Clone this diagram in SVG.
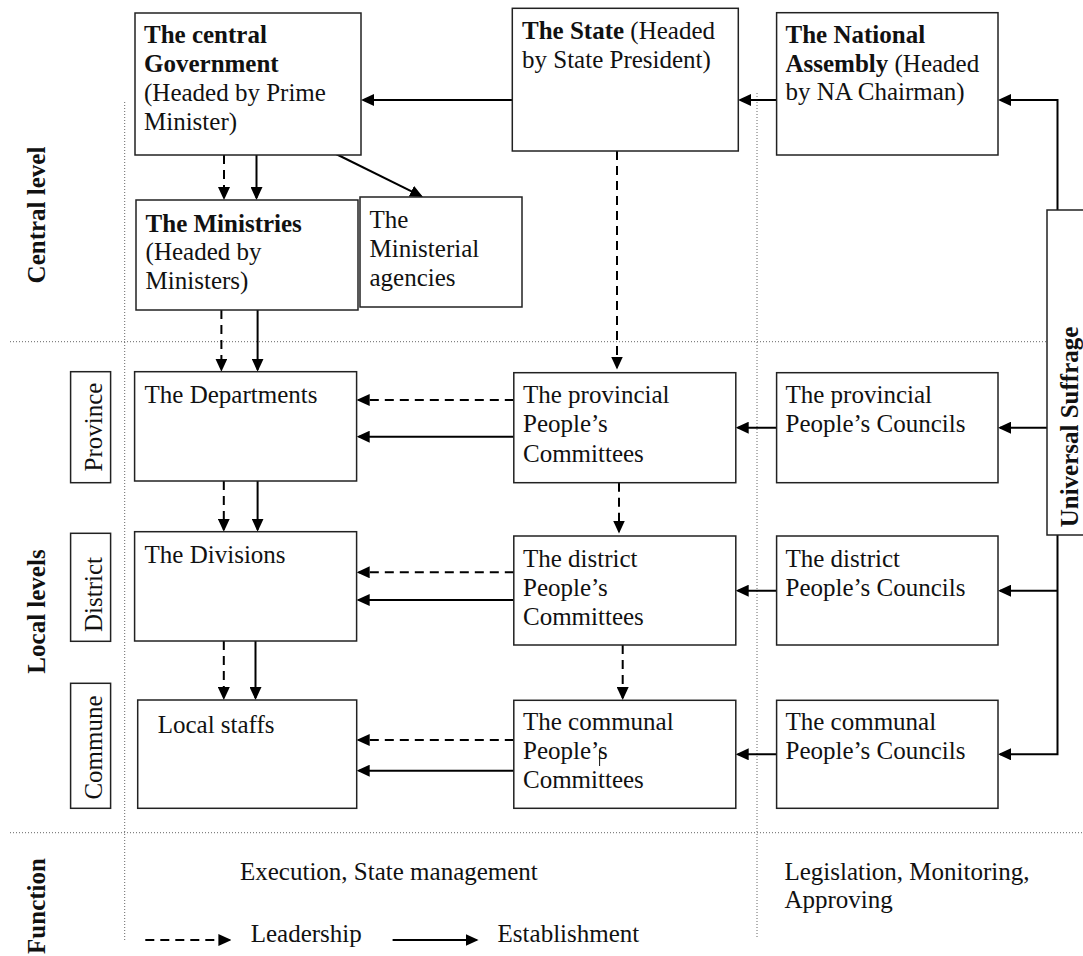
<svg xmlns="http://www.w3.org/2000/svg" width="1083" height="956" viewBox="0 0 1083 956">
  <style>
    .box { fill: #fff; stroke: #222; stroke-width: 1.5; }
    .t { font-family: "Liberation Serif", "Times New Roman", serif; font-size: 25px; fill: #111; }
    .b { font-weight: bold; }
    .solid { fill: none; stroke: #000; stroke-width: 2; marker-end: url(#head); }
    .dash { fill: none; stroke: #000; stroke-width: 2; stroke-dasharray: 9 6; marker-end: url(#head); }
    .grid { fill: none; stroke: #666; stroke-width: 1; stroke-dasharray: 1 2; }
  </style>
  <defs>
    <marker id="head" viewBox="0 0 13 12" refX="11" refY="6" markerWidth="13" markerHeight="12" markerUnits="userSpaceOnUse" orient="auto">
      <path d="M0,0 L13,6 L0,12 z" fill="#000" stroke="none"/>
    </marker>
  </defs>
  <rect width="1083" height="956" fill="#fff"/>

  <!-- level separators -->
  <g id="grid">
    <line class="grid" x1="124.7" y1="102" x2="124.7" y2="940"/>
    <line class="grid" x1="757" y1="93" x2="757" y2="937"/>
    <line class="grid" x1="10" y1="341.7" x2="1047" y2="341.7"/>
    <line class="grid" x1="10" y1="832.7" x2="1083" y2="832.7"/>
  </g>

  <!-- row labels -->
  <g id="level-labels">
    <text class="t b" text-anchor="middle" transform="translate(44.5,215) rotate(-90)">Central level</text>
    <text class="t b" text-anchor="middle" transform="translate(44.5,611.5) rotate(-90)">Local levels</text>
    <text class="t b" text-anchor="middle" transform="translate(44.5,906) rotate(-90)">Function</text>
  </g>
  <g id="province">
    <rect class="box" x="70.6" y="371.7" width="40" height="111"/>
    <text class="t" text-anchor="middle" transform="translate(102,427) rotate(-90)">Province</text>
  </g>
  <g id="district">
    <rect class="box" x="70.6" y="533.3" width="40" height="108"/>
    <text class="t" text-anchor="middle" transform="translate(102,594.5) rotate(-90)">District</text>
  </g>
  <g id="commune">
    <rect class="box" x="70.6" y="683.3" width="40" height="125"/>
    <text class="t" text-anchor="middle" transform="translate(102,747.5) rotate(-90)">Commune</text>
  </g>

  <!-- connectors -->
  <g id="connectors">
    <path class="solid" d="M513,100 H363"/>
    <path class="solid" d="M776.6,100 H740"/>
    <path class="solid" d="M1057.5,210 V100 H1000"/>
    <path class="dash" d="M224,155 V198"/>
    <path class="solid" d="M256.5,155 V198"/>
    <path class="solid" d="M334,153 L421.2,196.1"/>
    <path class="dash" d="M617,151 V367.5"/>
    <path class="dash" d="M221.4,310 V369.7"/>
    <path class="solid" d="M257.6,310 V369.7"/>
    <path class="dash" d="M513.8,400 H358.7"/>
    <path class="solid" d="M513.8,436.7 H358.7"/>
    <path class="solid" d="M776.6,427.7 H737.7"/>
    <path class="solid" d="M1047,427.7 H1000"/>
    <path class="dash" d="M223.8,481 V529.7"/>
    <path class="solid" d="M257.6,481 V529.7"/>
    <path class="dash" d="M619,482.7 V531.5"/>
    <path class="dash" d="M513.8,572.3 H358.7"/>
    <path class="solid" d="M513.8,600 H358.7"/>
    <path class="solid" d="M776.6,590.7 H737.7"/>
    <path class="solid" d="M1057.5,535 V754.3 H1000"/>
    <path class="solid" d="M1057.5,590.7 H1000"/>
    <path class="dash" d="M223.8,641 V698"/>
    <path class="solid" d="M255.5,641 V698"/>
    <path class="dash" d="M622.7,645 V698"/>
    <path class="dash" d="M513.8,740 H358.7"/>
    <path class="solid" d="M513.8,770.7 H358.7"/>
    <path class="solid" d="M776.6,754.3 H737.7"/>
  </g>

  <!-- central level -->
  <g id="central-government">
    <rect class="box" x="135" y="13" width="226" height="142"/>
    <text class="t">
      <tspan class="b" x="144" y="43">The central</tspan>
      <tspan class="b" x="144" y="72">Government</tspan>
      <tspan x="144" y="101">(Headed by Prime</tspan>
      <tspan x="144" y="130">Minister)</tspan>
    </text>
  </g>
  <g id="state">
    <rect class="box" x="512.3" y="8.3" width="226" height="142.7"/>
    <text class="t">
      <tspan x="522" y="39"><tspan class="b">The State</tspan> (Headed</tspan>
      <tspan x="522" y="68">by State President)</tspan>
    </text>
  </g>
  <g id="national-assembly">
    <rect class="box" x="776.6" y="12.7" width="221.4" height="142.3"/>
    <text class="t">
      <tspan class="b" x="785.5" y="43">The National</tspan>
      <tspan x="785.5" y="72"><tspan class="b">Assembly</tspan> (Headed</tspan>
      <tspan x="785.5" y="100">by NA Chairman)</tspan>
    </text>
  </g>
  <g id="ministries">
    <rect class="box" x="136" y="200" width="222" height="110"/>
    <text class="t">
      <tspan class="b" x="145.6" y="231.7">The Ministries</tspan>
      <tspan x="145.6" y="260">(Headed by</tspan>
      <tspan x="145.6" y="288.5">Ministers)</tspan>
    </text>
  </g>
  <g id="ministerial-agencies">
    <rect class="box" x="360" y="197" width="162" height="110"/>
    <text class="t">
      <tspan x="369.5" y="227.7">The</tspan>
      <tspan x="369.5" y="256.7">Ministerial</tspan>
      <tspan x="369.5" y="286">agencies</tspan>
    </text>
  </g>
  <g id="universal-suffrage">
    <rect class="box" x="1047" y="210" width="50" height="325"/>
    <text class="t b" text-anchor="middle" transform="translate(1078,427) rotate(-90)">Universal Suffrage</text>
  </g>

  <!-- province level -->
  <g id="departments">
    <rect class="box" x="134.6" y="371.7" width="222" height="109.3"/>
    <text class="t" x="144.6" y="403">The Departments</text>
  </g>
  <g id="provincial-committees">
    <rect class="box" x="513.8" y="372.7" width="222" height="110"/>
    <text class="t">
      <tspan x="523" y="403">The provincial</tspan>
      <tspan x="523" y="432">People’s</tspan>
      <tspan x="523" y="461.7">Committees</tspan>
    </text>
  </g>
  <g id="provincial-councils">
    <rect class="box" x="776.6" y="372.7" width="221.4" height="110"/>
    <text class="t">
      <tspan x="785.5" y="403">The provincial</tspan>
      <tspan x="785.5" y="432">People’s Councils</tspan>
    </text>
  </g>

  <!-- district level -->
  <g id="divisions">
    <rect class="box" x="134.6" y="531.7" width="222" height="109.3"/>
    <text class="t" x="144.6" y="563.3">The Divisions</text>
  </g>
  <g id="district-committees">
    <rect class="box" x="513.8" y="536" width="222" height="109"/>
    <text class="t">
      <tspan x="523" y="566.5">The district</tspan>
      <tspan x="523" y="596">People’s</tspan>
      <tspan x="523" y="625">Committees</tspan>
    </text>
  </g>
  <g id="district-councils">
    <rect class="box" x="776.6" y="536" width="221.4" height="109"/>
    <text class="t">
      <tspan x="785.5" y="566.5">The district</tspan>
      <tspan x="785.5" y="596">People’s Councils</tspan>
    </text>
  </g>

  <!-- commune level -->
  <g id="local-staffs">
    <rect class="box" x="137.7" y="700" width="219" height="108.3"/>
    <text class="t" x="157.7" y="733">Local staffs</text>
  </g>
  <g id="communal-committees">
    <rect class="box" x="513.8" y="700.3" width="222" height="108"/>
    <text class="t">
      <tspan x="523" y="730">The communal</tspan>
      <tspan x="523" y="759.3">People’s</tspan>
      <tspan x="523" y="788">Committees</tspan>
    </text>
    <line x1="599.6" y1="750" x2="599.6" y2="766" stroke="#111" stroke-width="1"/>
  </g>
  <g id="communal-councils">
    <rect class="box" x="776.6" y="700.3" width="221.4" height="108"/>
    <text class="t">
      <tspan x="785.5" y="730">The communal</tspan>
      <tspan x="785.5" y="759.3">People’s Councils</tspan>
    </text>
  </g>

  <!-- function row -->
  <g id="functions">
    <text class="t" x="240" y="880">Execution, State management</text>
    <text class="t">
      <tspan x="784.4" y="880">Legislation, Monitoring,</tspan>
      <tspan x="784.4" y="908.3">Approving</tspan>
    </text>
  </g>

  <!-- legend -->
  <g id="legend">
    <path class="dash" d="M145.3,940 H229.4"/>
    <text class="t" x="250.7" y="941.7">Leadership</text>
    <path class="solid" d="M392.6,940 H476.6"/>
    <text class="t" x="497.6" y="941.7">Establishment</text>
  </g>
</svg>
